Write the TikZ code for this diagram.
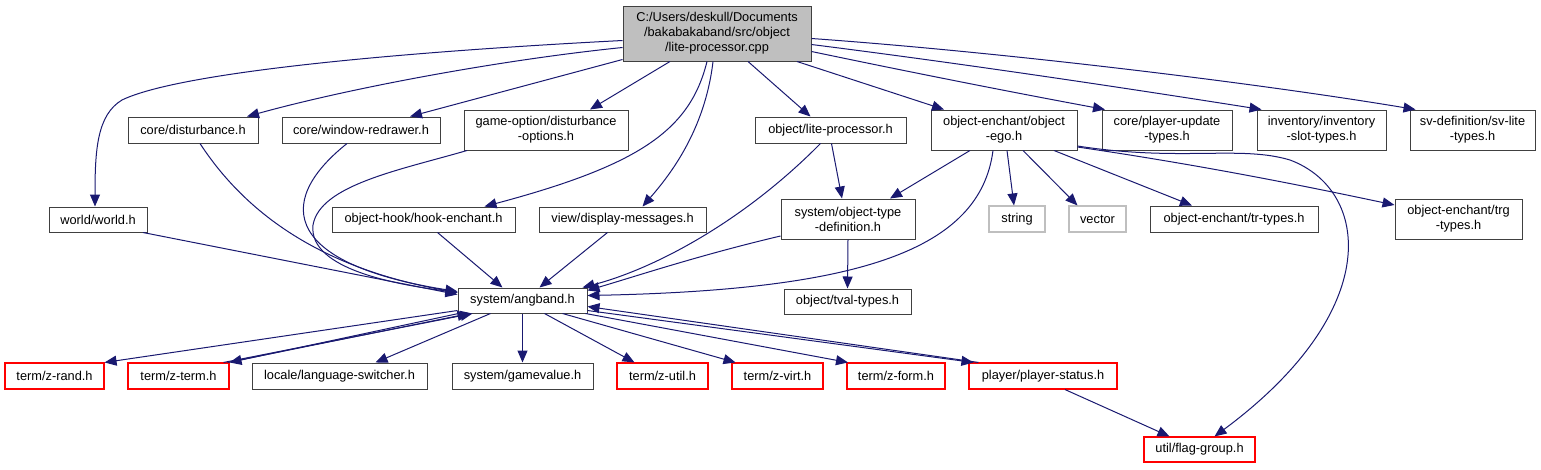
\documentclass[tikz,border=0pt]{standalone}
\usepackage{fontspec}
\setmainfont{Liberation Sans}
\usetikzlibrary{arrows.meta}
\definecolor{edgecol}{HTML}{191970}
\definecolor{boxgray}{HTML}{404040}
\definecolor{lightbox}{HTML}{BFBFBF}
\definecolor{rootfill}{HTML}{BFBFBF}
\definecolor{redline}{HTML}{FF0000}
\tikzset{
  box/.style={draw=boxgray, line width=1pt, inner sep=0pt, align=center, fill=white,
    font=\fontsize{12.8}{15}\selectfont, minimum height=26pt},
  redbox/.style={box, draw=redline, line width=1.1pt},
  greybox/.style={box, draw=lightbox, line width=1.1pt},
  rootbox/.style={box, fill=rootfill},
  dep/.style={draw=edgecol, line width=1pt, -{Triangle[length=12pt,width=10pt]}},
}
\begin{document}
\begin{tikzpicture}[x=1pt,y=-1pt]
\useasboundingbox (0,0) rectangle (1541,469);
% nodes
\node[rootbox, minimum width=188pt, minimum height=55pt] (root) at (717,33.5) {C:/Users/deskull/Documents\\/bakabakaband/src/object\\/lite-processor.cpp};
\node[box, minimum width=130pt] (disturbance) at (193,130) {core/disturbance.h};
\node[box, minimum width=158pt] (redrawer) at (361,130) {core/window-redrawer.h};
\node[box, minimum width=164pt, minimum height=40pt] (gameopt) at (546,130) {game-option/disturbance\\-options.h};
\node[box, minimum width=151pt] (liteh) at (830.5,130) {object/lite-processor.h};
\node[box, minimum width=146pt, minimum height=40pt] (ego) at (1004,130) {object-enchant/object\\-ego.h};
\node[box, minimum width=130pt, minimum height=40pt] (playerupd) at (1167,130) {core/player-update\\-types.h};
\node[box, minimum width=129pt, minimum height=40pt] (inventory) at (1321.5,130) {inventory/inventory\\-slot-types.h};
\node[box, minimum width=125pt, minimum height=40pt] (svdef) at (1472.5,130) {sv-definition/sv-lite\\-types.h};
\node[box, minimum width=98pt, minimum height=25pt] (world) at (98,219.5) {world/world.h};
\node[box, minimum width=183pt, minimum height=25pt] (hook) at (423.5,219.5) {object-hook/hook-enchant.h};
\node[box, minimum width=167pt, minimum height=25pt] (display) at (622.5,219.5) {view/display-messages.h};
\node[box, minimum width=134pt, minimum height=40pt] (objtype) at (848,219) {system/object-type\\-definition.h};
\node[greybox, minimum width=56pt] (string) at (1017,219) {string};
\node[greybox, minimum width=57pt] (vector) at (1097.5,219) {vector};
\node[box, minimum width=168pt] (trtypes) at (1234,219) {object-enchant/tr-types.h};
\node[box, minimum width=127pt, minimum height=40pt] (trg) at (1458.5,219) {object-enchant/trg\\-types.h};
\node[box, minimum width=129pt, minimum height=25pt] (angband) at (522.5,300.5) {system/angband.h};
\node[box, minimum width=127pt, minimum height=25pt] (tval) at (847.5,301.5) {object/tval-types.h};
\node[redbox, minimum width=99pt] (zrand) at (54.5,376) {term/z-rand.h};
\node[redbox, minimum width=101pt] (zterm) at (178.5,376) {term/z-term.h};
\node[box, minimum width=175pt] (lang) at (339.5,376) {locale/language-switcher.h};
\node[box, minimum width=141pt] (gamevalue) at (522.5,376) {system/gamevalue.h};
\node[redbox, minimum width=91pt] (zutil) at (662.5,376) {term/z-util.h};
\node[redbox, minimum width=91pt] (zvirt) at (777.5,376) {term/z-virt.h};
\node[redbox, minimum width=98pt] (zform) at (896,376) {term/z-form.h};
\node[redbox, minimum width=148pt] (pstatus) at (1043,376) {player/player-status.h};
\node[redbox, minimum width=111pt, minimum height=25pt] (flag) at (1199.5,449.5) {util/flag-group.h};
% edges from root
\draw[dep] ([yshift=-7pt]root.west) .. controls (400,52) and (180,72) .. (122,100) .. controls (97,115) and (95,150) .. ([xshift=-3pt]world.north);
\draw[dep] ([yshift=-14pt]root.west) .. controls (500,60) and (350,88) .. ([xshift=54pt]disturbance.north);
\draw[dep] ([yshift=-26pt]root.west) -- ([xshift=49pt]redrawer.north);
\draw[dep] ([xshift=-47pt]root.south) -- ([xshift=44pt]gameopt.north);
\draw[dep] ([xshift=-10pt]root.south) .. controls (690,130) and (640,165) .. ([xshift=61pt]hook.north);
\draw[dep] ([xshift=-4pt]root.south) .. controls (705,130) and (670,175) .. ([xshift=20pt]display.north);
\draw[dep] ([xshift=31pt]root.south) -- ([xshift=-20pt]liteh.north);
\draw[dep] ([xshift=80pt]root.south) -- ([xshift=-60pt]ego.north);
\draw[dep] ([yshift=-18pt]root.east) .. controls (900,70) and (1000,90) .. ([xshift=-62pt]playerupd.north);
\draw[dep] ([yshift=-11pt]root.east) .. controls (950,62) and (1100,84) .. ([xshift=-60pt]inventory.north);
\draw[dep] ([yshift=-5pt]root.east) .. controls (1000,52) and (1250,82) .. ([xshift=-57pt]svdef.north);
% edges into angband from above
\draw[dep] ([xshift=7pt]disturbance.south) .. controls (250,220) and (330,270) .. ([yshift=8pt]angband.west);
\draw[dep] ([xshift=-14pt]redrawer.south) .. controls (270,205) and (290,265) .. ([yshift=9pt]angband.west);
\draw[dep] ([xshift=-79pt]gameopt.south) .. controls (400,170) and (320,185) .. (313,225) .. controls (308,270) and (400,285) .. ([yshift=8pt]angband.west);
\draw[dep] ([xshift=45pt]world.south) -- ([yshift=6pt]angband.west);
\draw[dep] ([xshift=14pt]hook.south) -- ([xshift=-20pt]angband.north);
\draw[dep] ([xshift=-15pt]display.south) -- ([xshift=17pt]angband.north);
\draw[dep] ([xshift=-10pt]liteh.south) .. controls (740,225) and (650,270) .. ([xshift=-5pt]angband.north east);
\draw[dep] ([yshift=-17pt]objtype.west) .. controls (700,255) and (640,275) .. ([yshift=-3pt]angband.north east);
\draw[dep] ([xshift=-11pt]ego.south) .. controls (980,250) and (860,290) .. ([yshift=5pt]angband.east);
% other edges
\draw[dep] ([xshift=1pt]liteh.south) -- ([xshift=-6pt]objtype.north);
\draw[dep] ([xshift=-34pt]ego.south) -- ([xshift=42pt]objtype.north);
\draw[dep] ([xshift=3pt]ego.south) -- ([xshift=-3pt]string.north);
\draw[dep] ([xshift=19pt]ego.south) -- ([xshift=-20pt]vector.north);
\draw[dep] ([xshift=50pt]ego.south) -- ([xshift=-42pt]trtypes.north);
\draw[dep] ([yshift=-17pt]ego.east) .. controls (1200,165) and (1300,185) .. ([yshift=14pt]trg.west);
\draw[dep] ([yshift=-16pt]ego.east) .. controls (1180,162) and (1240,145) .. (1290,160) .. controls (1370,190) and (1385,310) .. ([xshift=15pt]flag.north);
\draw[dep] (objtype.south) -- (tval.north);
% edges out of angband
\draw[dep] ([yshift=-10pt]angband.west) -- (zrand.north east);
\draw[dep] ([xshift=1pt]angband.south west) -- (zterm.north east);
\draw[dep] ([xshift=-6pt]zterm.north east) -- ([xshift=15pt]angband.south west);
\draw[dep] ([xshift=-2pt]zterm.north east) -- ([xshift=12pt]angband.south west);
\draw[dep] ([xshift=-32pt]angband.south) -- ([xshift=36pt]lang.north);
\draw[dep] (angband.south) -- (gamevalue.north);
\draw[dep] ([xshift=22pt]angband.south) -- ([xshift=-28pt]zutil.north);
\draw[dep] ([xshift=40pt]angband.south) -- ([xshift=-42pt]zvirt.north);
\draw[dep] ([xshift=-2pt]angband.south east) -- ([xshift=-48pt]zform.north);
\draw[dep] ([yshift=-10pt]angband.east) -- ([xshift=5pt]pstatus.north west);
\draw[dep] ([xshift=10pt]pstatus.north west) -- ([yshift=-6pt]angband.east);
\draw[dep] ([xshift=22pt]pstatus.south) -- ([xshift=-30pt]flag.north);
\end{tikzpicture}
\end{document}
